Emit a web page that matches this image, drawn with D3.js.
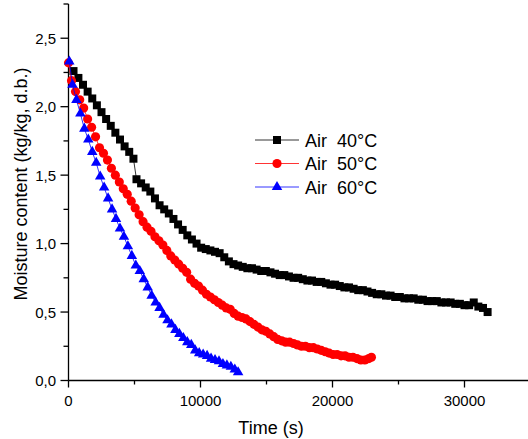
<!DOCTYPE html>
<html>
<head>
<meta charset="utf-8">
<script src="https://cdn.jsdelivr.net/npm/d3@7"></script>
<style>
  body { margin: 0; background: #fff; }
  text { font-family: "Liberation Sans", Arial, sans-serif; fill: #000; }
</style>
</head>
<body>
<script>
'use strict';

var width = 528;
var height = 439;

// Air 40 °C
var t40 = [380, 750, 1100, 1450, 1800, 2150, 2500, 2850, 3200, 3550, 3900, 4250, 4600, 4920,
  5150, 5500, 5850, 6200, 6550, 6900, 7250, 7600, 7950, 8300, 8650, 9000, 9350, 9700, 10050,
  10400, 10750, 11100, 11450, 11800, 12150, 12500, 12850, 13200, 13550, 13900, 14250, 14600, 14950,
  15300, 15650, 16000, 16350, 16700, 17050, 17400, 17750, 18100, 18450, 18800, 19150, 19500, 19850,
  20200, 20550, 20900, 21250, 21600, 21950, 22300, 22650, 23000, 23350, 23700, 24050, 24400, 24750,
  25100, 25450, 25800, 26150, 26500, 26850, 27200, 27550, 27900, 28250, 28600, 28950, 29300, 29650,
  30000, 30350, 30700, 31050, 31400, 31750];
var m40 = [2.26, 2.21, 2.16, 2.11, 2.06, 2.01, 1.96, 1.91, 1.86, 1.81, 1.76, 1.71, 1.67, 1.62,
  1.47, 1.44, 1.41, 1.38, 1.33, 1.28, 1.25, 1.22, 1.18, 1.14, 1.10, 1.06, 1.03, 1.00, 0.97,
  0.96, 0.95, 0.94, 0.93, 0.90, 0.87, 0.85, 0.84, 0.83, 0.82, 0.82, 0.81, 0.80, 0.80,
  0.79, 0.78, 0.77, 0.77, 0.76, 0.75, 0.75, 0.74, 0.73, 0.73, 0.72, 0.72, 0.71, 0.70,
  0.70, 0.69, 0.68, 0.68, 0.67, 0.66, 0.66, 0.65, 0.64, 0.63, 0.63, 0.62, 0.62, 0.61,
  0.61, 0.60, 0.60, 0.60, 0.59, 0.59, 0.58, 0.58, 0.58, 0.57, 0.57, 0.57, 0.56, 0.56,
  0.55, 0.55, 0.57, 0.54, 0.53, 0.50];

// Air 50 °C
var t50 = [0, 230, 530, 850, 1150, 1450, 1750, 2050, 2350, 2650, 2950, 3250, 3550, 3850, 4150,
  4450, 4750, 5050, 5350, 5650, 5950, 6250, 6550, 6850, 7150, 7450, 7750, 8050, 8350, 8650,
  8950, 9250, 9550, 9850, 10150, 10450, 10750, 11050, 11350, 11650, 11950, 12250, 12550, 12850,
  13150, 13450, 13750, 14050, 14350, 14650, 14950, 15250, 15550, 15850, 16150, 16450, 16750,
  17050, 17350, 17650, 17950, 18250, 18550, 18850, 19150, 19450, 19750, 20050, 20350, 20650,
  20950, 21250, 21550, 21850, 22150, 22450, 22750, 22950];
var m50 = [2.32, 2.19, 2.11, 2.05, 1.99, 1.91, 1.85, 1.78, 1.70, 1.66, 1.61, 1.55, 1.50, 1.45, 1.40,
  1.36, 1.31, 1.26, 1.21, 1.16, 1.12, 1.09, 1.05, 1.02, 0.99, 0.95, 0.91, 0.88, 0.85, 0.82,
  0.79, 0.74, 0.71, 0.69, 0.66, 0.63, 0.61, 0.59, 0.57, 0.55, 0.53, 0.52, 0.49, 0.47,
  0.46, 0.45, 0.43, 0.41, 0.39, 0.37, 0.36, 0.34, 0.32, 0.30, 0.29, 0.28, 0.28,
  0.27, 0.26, 0.25, 0.25, 0.24, 0.24, 0.23, 0.22, 0.21, 0.20, 0.19, 0.19, 0.18,
  0.18, 0.17, 0.17, 0.16, 0.15, 0.15, 0.16, 0.17];

// Air 60 °C
var t60 = [60, 300, 600, 900, 1200, 1500, 1800, 2100, 2400, 2700, 3000, 3300, 3600, 3900, 4200,
  4500, 4800, 5100, 5400, 5700, 6000, 6300, 6600, 6900, 7200, 7500, 7800, 8100, 8400, 8700,
  9000, 9300, 9600, 9900, 10200, 10500, 10800, 11100, 11400, 11700, 12000, 12300, 12600, 12850];
var m60 = [2.33, 2.16, 2.05, 1.95, 1.84, 1.76, 1.67, 1.59, 1.49, 1.41, 1.33, 1.25, 1.18, 1.11, 1.05,
  0.98, 0.91, 0.84, 0.80, 0.74, 0.68, 0.62, 0.57, 0.53, 0.48, 0.44, 0.41, 0.37, 0.34, 0.31,
  0.28, 0.26, 0.22, 0.20, 0.19, 0.18, 0.16, 0.15, 0.14, 0.12, 0.11, 0.10, 0.08, 0.06];

var seriesNames = ['Air  40°C', 'Air  50°C', 'Air  60°C'];
var seriesColors = ['#000000', '#ff0000', '#0000ff'];
var seriesSymbols = [d3.symbolSquare, d3.symbolCircle, d3.symbolTriangle];
var symbolSizes = [64, 66, 48];

var xTicks = [0, 10000, 20000, 30000];
var yTicks = [0, 0.5, 1.0, 1.5, 2.0, 2.5];

var series = [
  { name: seriesNames[0], t: t40, m: m40 },
  { name: seriesNames[1], t: t50, m: m50 },
  { name: seriesNames[2], t: t60, m: m60 }
];

var svg = d3.select('body').append('svg').attr('width', width).attr('height', height);
svg.append('rect').attr('width', width).attr('height', height).attr('fill', '#fff');

var x = d3.scaleLinear().domain([0, 35000]).range([68.5, 530.5]);
var y = d3.scaleLinear().domain([0, 2.75]).range([380.5, 4]);

var fmt = function (d) { return d3.format('.1f')(d).replace('.', ','); };

// minor ticks
var xMinor = d3.range(5000, 35000, 10000);
var yMinor = d3.range(0.25, 2.8, 0.5);

var axes = svg.append('g').attr('stroke', '#000').attr('stroke-width', 1.3);
axes.append('line').attr('x1', x(0)).attr('x2', width).attr('y1', y(0)).attr('y2', y(0));
axes.append('line').attr('x1', x(0)).attr('x2', x(0)).attr('y1', y(0)).attr('y2', y(2.75));
axes.selectAll('.xt').data(xTicks).enter().append('line')
  .attr('x1', function (d) { return x(d); }).attr('x2', function (d) { return x(d); })
  .attr('y1', y(0)).attr('y2', y(0) + 7);
axes.selectAll('.xm').data(xMinor).enter().append('line')
  .attr('x1', function (d) { return x(d); }).attr('x2', function (d) { return x(d); })
  .attr('y1', y(0)).attr('y2', y(0) + 4);
axes.selectAll('.yt').data(yTicks).enter().append('line')
  .attr('x1', x(0) - 8).attr('x2', x(0))
  .attr('y1', function (d) { return y(d); }).attr('y2', function (d) { return y(d); });
axes.selectAll('.ym').data(yMinor).enter().append('line')
  .attr('x1', x(0) - 5).attr('x2', x(0))
  .attr('y1', function (d) { return y(d); }).attr('y2', function (d) { return y(d); });

svg.selectAll('.xl').data(xTicks).enter().append('text')
  .attr('x', function (d) { return x(d); }).attr('y', 406)
  .attr('text-anchor', 'middle').attr('font-size', 15)
  .text(function (d) { return d; });
svg.selectAll('.yl').data(yTicks).enter().append('text')
  .attr('x', 56).attr('y', function (d) { return y(d) + 5.5; })
  .attr('text-anchor', 'end').attr('font-size', 15)
  .text(fmt);

svg.append('text').attr('x', 271).attr('y', 434).attr('text-anchor', 'middle')
  .attr('font-size', 18).text('Time (s)');
svg.append('text').attr('transform', 'translate(27,184) rotate(-90)')
  .attr('text-anchor', 'middle').attr('font-size', 18)
  .text('Moisture content (kg/kg, d.b.)');

var line = d3.line().x(function (d) { return x(d[0]); }).y(function (d) { return y(d[1]); });

series.forEach(function (s, i) {
  var pts = s.t.map(function (t, j) { return [t, s.m[j]]; });
  var g = svg.append('g');
  g.append('path').datum(pts).attr('d', line)
    .attr('fill', 'none').attr('stroke', seriesColors[i]).attr('stroke-width', 0.8);
  g.selectAll('path.mk').data(pts).enter().append('path').attr('class', 'mk')
    .attr('transform', function (d) { return 'translate(' + x(d[0]) + ',' + y(d[1]) + ')'; })
    .attr('d', d3.symbol().type(seriesSymbols[i]).size(symbolSizes[i]))
    .attr('fill', seriesColors[i]);
});

// legend
var legend = svg.append('g').attr('transform', 'translate(255,140)');
var rows = legend.selectAll('g').data(series).enter().append('g')
  .attr('transform', function (d, i) { return 'translate(0,' + (i * 23.5) + ')'; });
rows.append('line').attr('x1', 0).attr('x2', 44).attr('y1', 0).attr('y2', 0)
  .attr('stroke', function (d, i) { return seriesColors[i]; }).attr('stroke-width', 0.8);
rows.append('path').attr('transform', 'translate(22,0)')
  .attr('d', function (d, i) { return d3.symbol().type(seriesSymbols[i]).size(symbolSizes[i])(); })
  .attr('fill', function (d, i) { return seriesColors[i]; });
rows.append('text').attr('x', 50).attr('y', 6.5).attr('font-size', 18)
  .style('white-space', 'pre')
  .text(function (d) { return d.name; });
</script>
</body>
</html>
